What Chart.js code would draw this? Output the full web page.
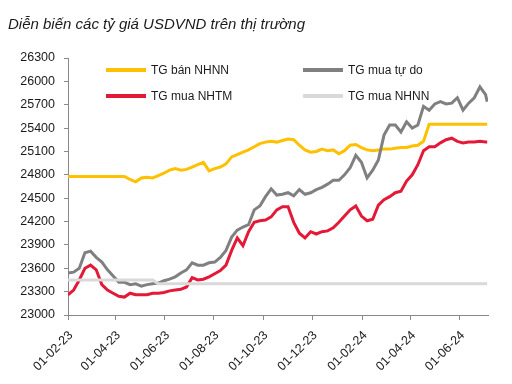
<!DOCTYPE html>
<html><head><meta charset="utf-8">
<script src="https://cdn.jsdelivr.net/npm/chart.js@4.4.1/dist/chart.umd.min.js"></script>
<style>html,body{margin:0;padding:0;background:#fff}#wrap{width:512px;height:384px;position:relative}</style>
</head><body><div id="wrap"><canvas id="c" width="512" height="384"></canvas></div>
<script>
const titleText = 'Diễn biến các tỷ giá USDVND trên thị trường';
const seriesNames = ['TG bán NHNN', 'TG mua tự do', 'TG mua NHTM', 'TG mua NHNN'];
const dates = [
 '2023-02-01','2023-02-08','2023-02-15','2023-02-22','2023-03-01','2023-03-08','2023-03-15','2023-03-22','2023-03-29',
 '2023-04-05','2023-04-12','2023-04-19','2023-04-26','2023-05-03','2023-05-10','2023-05-17','2023-05-24','2023-05-31',
 '2023-06-07','2023-06-14','2023-06-21','2023-06-28','2023-07-05','2023-07-12','2023-07-19','2023-07-26',
 '2023-08-02','2023-08-09','2023-08-16','2023-08-23','2023-08-30','2023-09-06','2023-09-13','2023-09-20','2023-09-27',
 '2023-10-04','2023-10-11','2023-10-18','2023-10-25','2023-11-01','2023-11-08','2023-11-15','2023-11-22','2023-11-29',
 '2023-12-06','2023-12-13','2023-12-20','2023-12-27',
 '2024-01-03','2024-01-10','2024-01-17','2024-01-24','2024-01-31','2024-02-07','2024-02-14','2024-02-21','2024-02-28',
 '2024-03-06','2024-03-13','2024-03-20','2024-03-27','2024-04-03','2024-04-10','2024-04-17','2024-04-24',
 '2024-05-01','2024-05-08','2024-05-15','2024-05-22','2024-05-29','2024-06-05','2024-06-12','2024-06-19','2024-06-26',
 '2024-07-03','2024-07-05'
];
const tgBanNHNN = [
 24780,24780,24780,24780,24780,24780,24780,24780,24780,24780,24780,
 24740,24710,24760,24770,24760,24790,24820,24860,24880,24860,24870,24900,24930,24960,24850,24880,24900,24940,
 25030,25060,25090,25120,25160,25200,25220,25230,25220,25240,25260,25250,25180,25120,25090,25100,25130,25110,25120,
 25070,25110,25180,25190,25150,25120,25110,25120,25130,25130,25140,25150,25150,25170,25180,25230,
 25450,25450,25450,25450,25450,25450,25450,25450,25450,25450,25450,25450
];
const tgMuaTuDo = [
 23540,23550,23600,23800,23820,23740,23680,23580,23500,23420,23420,23390,23400,23370,23390,23400,23410,23440,
 23460,23490,23540,23580,23670,23640,23640,23670,23680,23740,23830,24000,24090,24130,24160,24350,24400,
 24520,24620,24540,24550,24570,24530,24610,24550,24570,24610,24640,24680,24730,
 24730,24800,24890,25050,24960,24760,24860,24990,25310,25440,25440,25350,25480,25400,25440,25680,25630,
 25710,25740,25710,25720,25790,25630,25720,25790,25930,25830,25740
];
const tgMuaNHTM = [
 23260,23320,23450,23600,23640,23580,23390,23320,23280,23240,23230,23280,23260,23260,23260,23280,23280,23290,
 23310,23320,23330,23360,23480,23450,23460,23490,23530,23570,23640,23830,23990,23890,24070,24190,24210,
 24220,24260,24350,24390,24390,24190,24050,23990,24070,24040,24070,24080,24120,
 24190,24270,24350,24400,24270,24210,24230,24410,24480,24520,24570,24590,24720,24800,24930,25110,25160,
 25160,25210,25250,25270,25230,25210,25220,25220,25230,25220,25220
];
const tgMuaNHNN = [
 23450,23450,23450,23450,23450,23450,23450,23450,23450,23450,23450,23450,23450,23450,23450,23450,
 23400,23400,23400,23400,23400,23400,23400,23400,23400,23400,23400,23400,23400,23400,23400,23400,23400,23400,23400,
 23400,23400,23400,23400,23400,23400,23400,23400,23400,23400,23400,23400,23400,23400,23400,23400,23400,23400,23400,
 23400,23400,23400,23400,23400,23400,23400,23400,23400,23400,23400,23400,23400,23400,23400,23400,23400,23400,23400,
 23400,23400,23400
];
const xTickDates = ['2023-02-01','2023-04-01','2023-06-01','2023-08-01','2023-10-01','2023-12-01','2024-02-01','2024-04-01','2024-06-01'];
const xTickLabels = ['01-02-23','01-04-23','01-06-23','01-08-23','01-10-23','01-12-23','01-02-24','01-04-24','01-06-24'];
const yTicks = [23000,23300,23600,23900,24200,24500,24800,25100,25400,25700,26000,26300];
const xStart = '2023-02-01', xEnd = '2024-07-06';

const FONT = "'Liberation Sans',Arial,sans-serif";
const ms = d => Date.parse(d + 'T00:00:00Z');
const pts = arr => arr.map((v, i) => ({x: ms(dates[i]), y: v}));
const colors = ['#FFC000', '#808080', '#E31937', '#D9D9D9'];
const seriesData = [tgBanNHNN, tgMuaTuDo, tgMuaNHTM, tgMuaNHNN];

const legendPlugin = {
  id: 'customLegend',
  afterDraw(chart) {
    const ctx = chart.ctx;
    const slots = [[106, 70], [303, 70], [106, 96], [303, 96]];
    ctx.save();
    ctx.font = '12px ' + FONT;
    ctx.textBaseline = 'middle';
    ctx.fillStyle = '#1a1a1a';
    chart.data.datasets.forEach((ds, i) => {
      const [x, y] = slots[i];
      ctx.strokeStyle = ds.borderColor;
      ctx.lineWidth = 4;
      ctx.beginPath(); ctx.moveTo(x, y); ctx.lineTo(x + 40, y); ctx.stroke();
      ctx.fillText(ds.label, x + 45, y + 1);
    });
    ctx.restore();
  }
};

new Chart(document.getElementById('c'), {
  type: 'line',
  data: {
    datasets: seriesNames.map((name, i) => ({
      label: name,
      data: pts(seriesData[i]),
      borderColor: colors[i],
      backgroundColor: colors[i],
      borderWidth: 3,
      pointRadius: 0,
      tension: 0,
      order: 3 - i
    }))
  },
  options: {
    responsive: false,
    animation: false,
    devicePixelRatio: 1,
    layout: {padding: {left: 8, right: 24, top: 0, bottom: 0}},
    plugins: {
      legend: {display: false},
      tooltip: {enabled: false},
      title: {
        display: true, text: titleText, align: 'start', color: '#1a1a1a',
        font: {family: FONT, size: 15, style: 'italic', weight: 'normal', lineHeight: 1.2},
        padding: {top: 16, bottom: 24}
      }
    },
    scales: {
      x: {
        type: 'linear',
        min: ms(xStart), max: ms(xEnd),
        afterBuildTicks: s => { s.ticks = xTickDates.map(d => ({value: ms(d)})); },
        afterFit: s => { s.height = 69; },
        ticks: {
          minRotation: 45, maxRotation: 45, autoSkip: false, padding: 8, labelOffset: 3,
          color: '#1a1a1a', font: {family: FONT, size: 12.5},
          callback: (v) => { const k = xTickDates.findIndex(d => ms(d) === v); return k >= 0 ? xTickLabels[k] : ''; }
        },
        grid: {drawOnChartArea: false, color: '#898989', tickLength: 5},
        border: {display: true, color: '#898989', width: 1}
      },
      y: {
        min: yTicks[0], max: yTicks[yTicks.length - 1],
        afterBuildTicks: s => { s.ticks = yTicks.map(v => ({value: v})); },
        afterFit: s => { s.width = 60; },
        ticks: {
          padding: 9, color: '#1a1a1a', font: {family: FONT, size: 12.5},
          callback: v => String(v)
        },
        grid: {drawOnChartArea: false, color: '#898989', tickLength: 4},
        border: {display: true, color: '#898989', width: 1}
      }
    }
  },
  plugins: [legendPlugin]
});
</script></body></html>
